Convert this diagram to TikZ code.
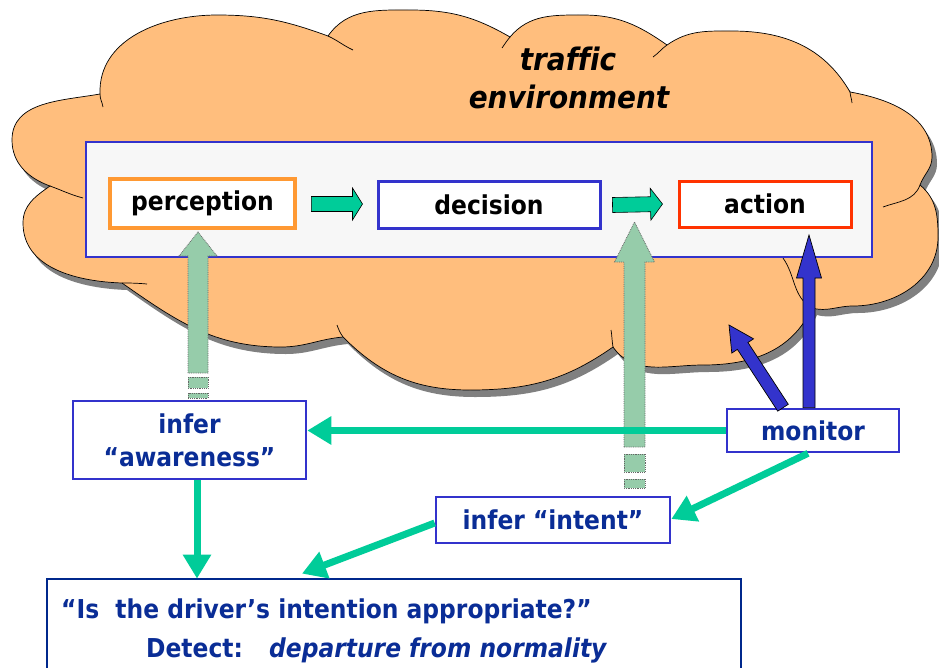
\documentclass[tikz,border=0pt]{standalone}
\usepackage{fontspec}
\setmainfont{DejaVu Sans Condensed}[BoldFont={DejaVu Sans Condensed Bold},ItalicFont={DejaVu Sans Condensed Oblique},BoldItalicFont={DejaVu Sans Condensed Bold Oblique}]
\usetikzlibrary{arrows.meta,calc}

\definecolor{cloudfill}{RGB}{255,190,125}
\definecolor{cloudshade}{RGB}{128,128,128}
\definecolor{panelfill}{RGB}{247,247,247}
\definecolor{boxblue}{RGB}{51,51,204}
\definecolor{boxorange}{RGB}{255,153,51}
\definecolor{boxred}{RGB}{255,51,0}
\definecolor{flowgreen}{RGB}{0,204,153}
\definecolor{mintfill}{RGB}{150,204,170}
\definecolor{navytext}{RGB}{10,45,150}
\definecolor{navyline}{RGB}{0,40,140}

% outline of the cloud, traced clockwise bump by bump
\newcommand\cloudoutline[1]{%
  \path[#1] (100,-94) to[out=92,in=180] (217,-15)
    to[out=0,in=160] (328,-36)
    to[out=55,in=180] (410,-10)
    to[out=0,in=150] (510,-37)
    to[out=50,in=180] (583,-15)
    to[out=0,in=145] (667,-45)
    to[out=35,in=180] (732,-31)
    to[out=0,in=120] (850,-92)
    to[out=-10,in=90] (932,-157)
    to[out=-90,in=70] (920,-185)
    to[out=-40,in=90] (938,-237)
    to[out=-90,in=0] (853,-306)
    to[out=180,in=-15] (812,-308)
    to[out=-115,in=0] (703,-365)
    to[out=180,in=-55] (613,-347)
    to[out=-145,in=0] (470,-390)
    to[out=180,in=-45] (343,-337)
    to[out=-175,in=0] (281,-347)
    to[out=180,in=-35] (122,-283)
    to[out=178,in=-90] (23,-223)
    to[out=90,in=215] (50,-186)
    to[out=160,in=-90] (12,-140)
    to[out=90,in=190] (100,-94) -- cycle;}

% block arrow: style, from, to, shaft half width, head length, head half width
\newcommand\blockarrow[6]{%
  \draw[#1] ($(#2)!#4!90:(#3)$)
    -- ($(#3)!#5!(#2)!#4!90:(#3)$)
    -- ($(#3)!#5!(#2)!#6!90:(#3)$)
    -- (#3)
    -- ($(#3)!#5!(#2)!#6!-90:(#3)$)
    -- ($(#3)!#5!(#2)!#4!-90:(#3)$)
    -- ($(#2)!#4!-90:(#3)$) -- cycle;}

\begin{document}
\begin{tikzpicture}[x=1pt,y=1pt,
  lbl/.style={font=\fontsize{26}{31}\selectfont\bfseries},
  topbox/.style={lbl, fill=white, line width=3pt, inner sep=0pt},
  lowbox/.style={lbl, draw=boxblue, fill=white, line width=2.6pt, text=navytext, inner sep=0pt, align=center},
  flowarrow/.style={fill=flowgreen, draw=black, line width=0.6pt},
  palearrow/.style={fill=mintfill, draw=black!60, line width=0.8pt, densely dotted},
  bluearrow/.style={fill=boxblue, draw=black, line width=0.7pt},
  gconn/.style={draw=flowgreen, line width=7pt, -{Triangle[length=24pt,width=27pt]}},
  plain/.style={inner sep=0pt, text=navytext, font=\fontsize{26}{31}\selectfont\bfseries},
  captxt/.style={font=\fontsize{31}{36}\selectfont\bfseries\itshape\addfontfeature{Ligatures=NoCommon}, anchor=base, inner sep=0pt},
  cusp/.style={draw=black, line width=0.7pt}
]
\useasboundingbox (0,0) rectangle (939,-667);
\clip (0,0) rectangle (939,-667);

% cloud with its drop shadow
\cloudoutline{fill=cloudshade, shift={(5,-7)}}
\cloudoutline{fill=cloudfill, draw=black, line width=0.7pt}
\draw[cusp] (100,-94) to[out=-90,in=100] (103,-107);
\draw[cusp] (328,-36) to[out=-25,in=155] (353,-50);
\draw[cusp] (510,-37) to[out=-130,in=55] (502,-48);
\draw[cusp] (667,-45) to[out=-145,in=35] (653,-57);
\draw[cusp] (850,-92) to[out=-85,in=95] (852,-103);
\draw[cusp] (920,-185) to[out=-110,in=20] (883,-207);
\draw[cusp] (812,-308) to[out=150,in=-55] (783,-258);
\draw[cusp] (613,-347) to[out=100,in=-80] (611,-330);
\draw[cusp] (343,-337) to[out=125,in=-70] (337,-325);
\draw[cusp] (122,-283) to[out=0,in=175] (147,-284);
\draw[cusp] (50,-186) to[out=-20,in=165] (83,-198);

% cloud caption
\node[captxt] (cap1) at (568,-70) {traffic};
\node[captxt] (cap2) at (569,-108) {environment};

% driver panel
\node[draw=boxblue, fill=panelfill, line width=2.2pt, minimum width=786pt, minimum height=115pt, inner sep=0pt] (panel) at (479,-199.5) {};

\node[topbox, draw=boxorange, line width=3.6pt, minimum width=185pt, minimum height=49pt] (perc) at (202.5,-203.5) {perception};
\node[topbox, draw=boxblue, minimum width=222pt, minimum height=47pt] (dec) at (489,-204.5) {decision};
\node[topbox, draw=boxred, minimum width=172pt, minimum height=46pt] (act) at (765,-204) {action};

\coordinate (f1a) at ([xshift=14.5pt,yshift=-0.5pt]perc.east);
\coordinate (f1b) at ([xshift=-14pt,yshift=0.5pt]dec.west);
\coordinate (f2a) at ([xshift=11pt,yshift=-0.5pt]dec.east);
\coordinate (f2b) at ([xshift=-15pt]act.west);
\blockarrow{flowarrow}{f1a}{f1b}{7.5pt}{10pt}{16pt}
\blockarrow{flowarrow}{f2a}{f2b}{7.5pt}{12pt}{16pt}

% lower boxes
\node[lowbox, minimum width=233pt, minimum height=78pt] (aware) at (189.5,-440) {infer\\[2pt]“awareness”};
\node[lowbox, minimum width=234pt, minimum height=46pt] (intent) at (553,-520) {infer “intent”};
\node[lowbox, minimum width=172pt, minimum height=43pt] (mon) at (813,-430.5) {monitor};
\node[draw=navyline, line width=2.8pt, fill=white, minimum width=694pt, minimum height=200pt, inner sep=0pt] (big) at (394,-679) {};
\node[plain, anchor=base west] (q1) at (61,-618) {“Is\ \ the driver’s intention appropriate?”};
\node[plain, anchor=base west] (q2) at (146,-657) {Detect:};
\node[plain, anchor=base west] (q3) at (269,-657) {\itshape departure from normality};

% inference arrows up into the panel
\coordinate (pa0) at (198,-373);
\coordinate (pa1) at (198,-232);
\blockarrow{palearrow}{pa0}{pa1}{10pt}{24pt}{19pt}
\draw[palearrow] (188,-377) rectangle (208,-388);
\draw[palearrow] (188,-393) rectangle (208,-398);
\coordinate (pb0) at (634.5,-447);
\coordinate (pb1) at (634.5,-222);
\blockarrow{palearrow}{pb0}{pb1}{10.5pt}{40pt}{20pt}
\draw[palearrow] (624,-454) rectangle (645,-472);
\draw[palearrow] (624,-479) rectangle (645,-488);

% monitoring arrows
\coordinate (m0) at ([xshift=-4pt]mon.north);
\coordinate (m1) at (809,-235);
\blockarrow{bluearrow}{m0}{m1}{6pt}{43pt}{12.5pt}
\coordinate (m2) at ([xshift=-30pt]mon.north);
\coordinate (m3) at (729,-325);
\blockarrow{bluearrow}{m2}{m3}{6.3pt}{25pt}{13pt}

% green connectors
\draw[gconn] (mon.west) -- (mon.west -| aware.east);
\draw[gconn] ([xshift=7.5pt]aware.south) -- ([xshift=7.5pt,yshift=-1pt]aware.south |- big.north);
\coordinate (qi) at ([xshift=-92pt,yshift=4pt]big.north);
\draw[gconn] ([yshift=-3pt]intent.west) -- (qi);
\draw[gconn] ([xshift=-5pt]mon.south) -- ([yshift=1pt]intent.east);
\end{tikzpicture}
\end{document}
